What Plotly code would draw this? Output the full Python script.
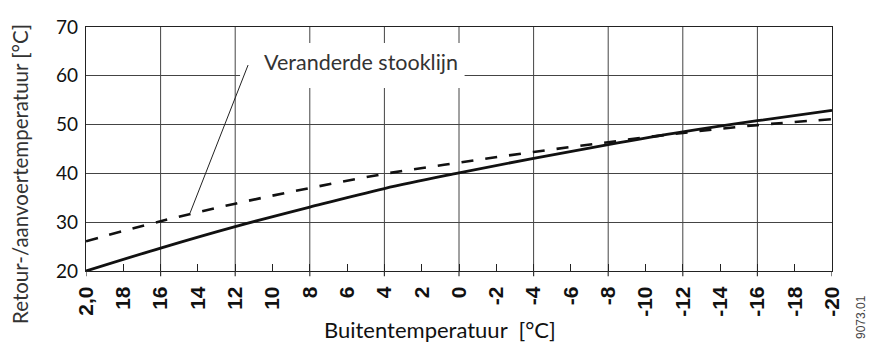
import plotly.graph_objects as go

# Data
outside_temp = [20, 16, 12, 8, 4, 0, -4, -8, -12, -16, -20]
stooklijn = [20.0, 24.7, 29.1, 33.1, 36.9, 40.1, 43.1, 45.9, 48.5, 50.8, 52.9]
veranderde_stooklijn = [26.1, 30.2, 33.8, 37.0, 39.9, 42.2, 44.4, 46.4, 48.3, 49.9, 51.1]

x_tickvals = list(range(20, -21, -2))
x_ticktext = ["2,0"] + [str(v) for v in x_tickvals[1:]]
y_tickvals = [20, 30, 40, 50, 60, 70]

label_text = "Veranderde stooklijn"
x_title = "Buitentemperatuur  [°C]"
y_title = "Retour-/aanvoertemperatuur [°C]"
code_text = "9073.01"

fig = go.Figure()
fig.add_trace(go.Scatter(x=outside_temp, y=stooklijn, mode="lines",
                         line=dict(color="#111", width=2.8, shape="spline"),
                         showlegend=False, hoverinfo="skip"))
fig.add_trace(go.Scatter(x=outside_temp, y=veranderde_stooklijn, mode="lines",
                         line=dict(color="#111", width=2.6, shape="spline", dash="12px,12px"),
                         showlegend=False, hoverinfo="skip"))

fig.update_layout(
    width=877, height=345,
    margin=dict(l=86, r=45, t=27, b=74),
    paper_bgcolor="white", plot_bgcolor="white",
    showlegend=False,
    xaxis=dict(
        range=[20, -20], tickvals=x_tickvals, ticktext=x_ticktext,
        tickangle=-90, showgrid=False, zeroline=False,
        showline=True, linecolor="#222", linewidth=1.2, mirror=True,
        ticks="inside", ticklen=7, tickcolor="#222", tickwidth=1.2,
        tickfont=dict(family="Liberation Sans Narrow, Liberation Sans, Arial", size=21,
                      color="#111", weight="bold"),
        ticklabelstandoff=6,
    ),
    yaxis=dict(
        range=[20, 70], tickvals=y_tickvals, showgrid=True, gridcolor="#444",
        gridwidth=1, zeroline=False,
        showline=True, linecolor="#222", linewidth=1.2, mirror=True,
        ticks="", ticklabelstandoff=3,
        tickfont=dict(family="Lato, Open Sans, sans-serif", size=19, color="#111"),
    ),
)

# vertical major gridlines every 4
for v in range(16, -20, -4):
    fig.add_shape(type="line", xref="x", yref="paper", x0=v, x1=v, y0=0, y1=1,
                  line=dict(color="#444", width=1), layer="below")
    fig.add_shape(type="line", xref="x", yref="paper", x0=v, x1=v, y0=0, y1=-0.022,
                  line=dict(color="#333", width=1.2), layer="above")
for v in (20, -20):
    fig.add_shape(type="line", xref="x", yref="paper", x0=v, x1=v, y0=0, y1=-0.022,
                  line=dict(color="#333", width=1.2), layer="above")

# white mask behind label
fig.add_shape(type="rect", xref="x", yref="y", x0=11.74, x1=-0.3, y0=57.5, y1=66.7,
              fillcolor="white", line=dict(width=0), layer="above")
# leader line
fig.add_shape(type="line", xref="x", yref="y", x0=11.31, y0=62.2, x1=14.42, y1=31.9,
              line=dict(color="#222", width=1), layer="above")

fig.add_annotation(x=5.23, y=62.8, xref="x", yref="y", text=label_text, showarrow=False,
                   font=dict(family="Lato, Open Sans, sans-serif", size=21.5, color="#333"),
                   xanchor="center", yanchor="middle")

fig.add_annotation(x=(440 - 86) / 746, y=(271 - 329) / 244, xref="paper", yref="paper",
                   text=x_title, showarrow=False, xanchor="center", yanchor="middle",
                   font=dict(family="Lato, Open Sans, sans-serif", size=22, color="#111"))
fig.add_annotation(x=(20 - 86) / 746, y=(271 - 174) / 244, xref="paper", yref="paper",
                   text=y_title, showarrow=False, textangle=-90, xanchor="center",
                   yanchor="middle",
                   font=dict(family="Lato, Open Sans, sans-serif", size=20.5, color="#333"))
fig.add_annotation(x=(861 - 86) / 746, y=(271 - 317) / 244, xref="paper", yref="paper",
                   text=code_text, showarrow=False, textangle=-90, xanchor="center",
                   yanchor="middle",
                   font=dict(family="Liberation Sans Narrow, Liberation Sans, Arial", size=12,
                             color="#444"))

fig.write_html("out.html", config={"displayModeBar": False},
               post_script="document.body.style.margin='0';document.body.style.overflow='hidden';")
